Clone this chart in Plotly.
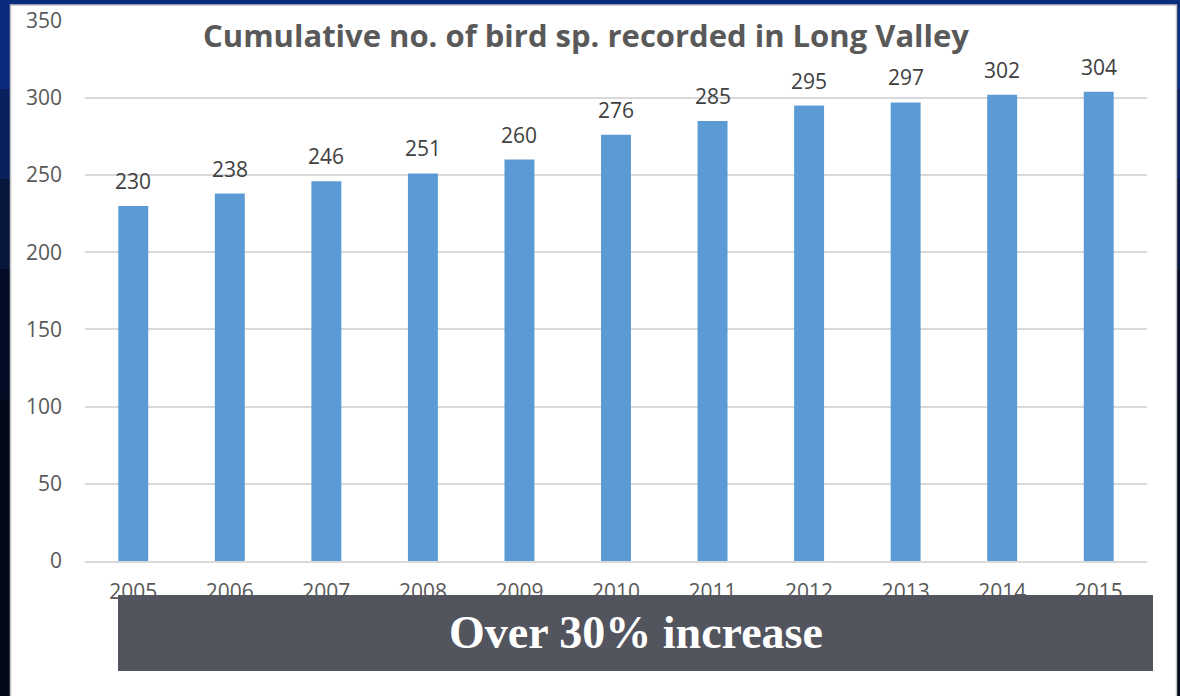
import plotly.graph_objects as go

years = ["2005", "2006", "2007", "2008", "2009", "2010", "2011", "2012", "2013", "2014", "2015"]
species = [230, 238, 246, 251, 260, 276, 285, 295, 297, 302, 304]
y_ticks = [0, 50, 100, 150, 200, 250, 300, 350]
title_text = "Cumulative no. of bird sp. recorded in Long Valley"
banner_text = "Over 30% increase"

W, H = 1180, 696
L, R, T, B = 85, 33, 20, 135
pw, ph = W - L - R, H - T - B

def px_x(p):
    return (p - L) / pw

def px_y(p):
    return (H - B - p) / ph

fig = go.Figure()
fig.add_trace(go.Bar(x=years, y=species, marker=dict(color="#5b9bd5", line=dict(width=0)),
                     hoverinfo="x+y"))

shapes = []
# dark slide background (vertical gradient approximation)
bands = [(0, 90, "#0a2a7c"), (90, 180, "#08205c"), (180, 270, "#06163c"),
         (270, 400, "#050d26"), (400, 700, "#04091a")]
for y0, y1, c in bands:
    shapes.append(dict(type="rect", xref="paper", yref="paper", layer="below",
                       x0=px_x(-5), x1=px_x(W + 5), y0=px_y(y1 + 1), y1=px_y(y0 - 1),
                       fillcolor=c, line=dict(width=0)))
# blue top strip
shapes.append(dict(type="rect", xref="paper", yref="paper", layer="below",
                   x0=px_x(-5), x1=px_x(W + 5), y0=px_y(8), y1=px_y(-5),
                   fillcolor="#0a2a7c", line=dict(width=0)))
# white panel
shapes.append(dict(type="rect", xref="paper", yref="paper", layer="below",
                   x0=px_x(10.5), x1=px_x(1176.5), y0=px_y(H + 5), y1=px_y(5),
                   fillcolor="white", line=dict(color="#c0c0c0", width=1.5)))
# banner
shapes.append(dict(type="rect", xref="paper", yref="paper", layer="above",
                   x0=px_x(118), x1=px_x(1153), y0=px_y(671), y1=px_y(595),
                   fillcolor="#52545e", line=dict(width=0)))

annotations = []
for i, v in enumerate(species):
    annotations.append(dict(x=i, y=v, xref="x", yref="y", text=str(v), showarrow=False,
                            yanchor="bottom", yshift=9,
                            font=dict(family="Open Sans", size=21, color="#404040")))
annotations.append(dict(x=px_x(586), y=px_y(35), xref="paper", yref="paper", text="<b>" + title_text + "</b>",
                        showarrow=False, xanchor="center", yanchor="middle",
                        font=dict(family="Open Sans", size=31, color="#595959")))
annotations.append(dict(x=px_x(635.5), y=px_y(632), xref="paper", yref="paper", text="<b>" + banner_text + "</b>",
                        showarrow=False, xanchor="center", yanchor="middle",
                        font=dict(family="Liberation Serif", size=46, color="white")))

fig.update_layout(
    width=W, height=H,
    margin=dict(l=L, r=R, t=T, b=B, pad=0, autoexpand=False),
    paper_bgcolor="#04091a",
    plot_bgcolor="rgba(0,0,0,0)",
    bargap=0.69,
    showlegend=False,
    shapes=shapes,
    annotations=annotations,
    xaxis=dict(type="category", range=[-0.5, 10.5], showgrid=False, showline=True,
               linecolor="#d9d9d9", linewidth=2, ticks="", ticklabelstandoff=11, automargin=False,
               tickfont=dict(family="Open Sans", size=21, color="#595959"), fixedrange=True),
    yaxis=dict(range=[0, 350.4], tickvals=y_ticks, showgrid=True, gridcolor="#d9d9d9", gridwidth=2,
               zeroline=False, showline=False, ticks="", ticklabelstandoff=22, automargin=False,
               tickfont=dict(family="Open Sans", size=21, color="#595959"), fixedrange=True),
)

fig.write_html("out.html", config={"displayModeBar": False})
